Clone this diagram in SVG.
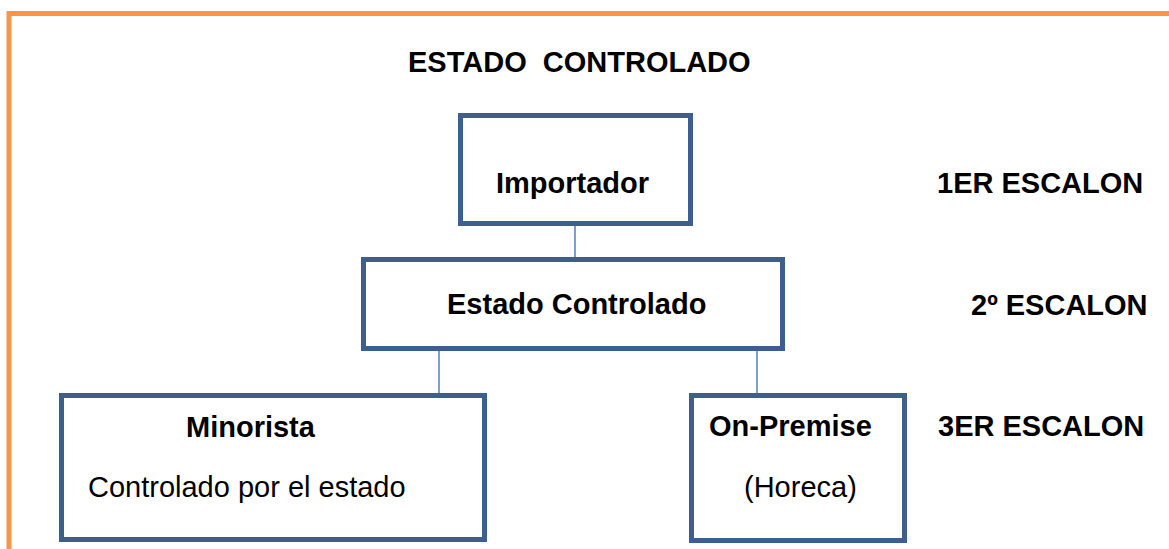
<svg xmlns="http://www.w3.org/2000/svg" width="1169" height="549" viewBox="0 0 1169 549">
<style>
.box{fill:#fff;stroke:#3c5f8e;stroke-width:5}
.con{stroke:#4f81bd;stroke-width:1.5;fill:none}
.b{font-family:"Liberation Sans",Arial,sans-serif;font-weight:bold;font-size:29px;fill:#000}
.r{font-family:"Liberation Sans",Arial,sans-serif;font-size:29px;fill:#000}
</style>
<rect width="1169" height="549" fill="#fff"/>
<path d="M9 549 V13.5 H1169" fill="none" stroke="#f79646" stroke-width="5"/>
<text class="b" x="408" y="72" xml:space="preserve">ESTADO  CONTROLADO</text>
<g id="connectors">
<line class="con" x1="575" y1="226" x2="575" y2="257"/>
<line class="con" x1="439" y1="351" x2="439" y2="393"/>
<line class="con" x1="757" y1="351" x2="757" y2="393"/>
</g>
<g id="importador">
<rect class="box" x="460.5" y="115.5" width="230" height="108"/>
<text class="b" x="496" y="193">Importador</text>
</g>
<g id="estado">
<rect class="box" x="363.5" y="259.5" width="419" height="89"/>
<text class="b" x="447" y="314">Estado Controlado</text>
</g>
<g id="minorista">
<rect class="box" x="61.5" y="395.5" width="423" height="144"/>
<text class="b" x="186" y="437">Minorista</text>
<text class="r" x="88" y="497">Controlado por el estado</text>
</g>
<g id="onpremise">
<rect class="box" x="691.5" y="395.5" width="213" height="145"/>
<text class="b" x="709" y="436">On-Premise</text>
<text class="r" x="744" y="497">(Horeca)</text>
</g>
<g id="labels">
<text class="b" x="937" y="193">1ER ESCALON</text>
<text class="b" x="971" y="315">2º ESCALON</text>
<text class="b" x="938" y="436">3ER ESCALON</text>
</g>
</svg>
